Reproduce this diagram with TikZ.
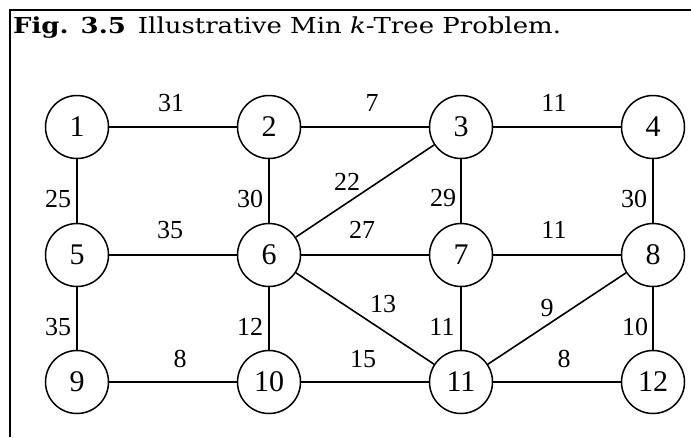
\documentclass[tikz,border=0pt]{standalone}
\usepackage{fontspec}
\setmainfont{Liberation Serif}
\newfontfamily\titlefont[FakeStretch=1.18]{DejaVu Serif}
\begin{document}
\begin{tikzpicture}[x=1pt,y=-1pt,
  vtx/.style={circle,draw,line width=1.5pt,minimum size=63pt,inner sep=0pt,font=\fontsize{30}{30}\selectfont},
  edge/.style={line width=1.1pt},
  dedge/.style={line width=1.6pt},
  wt/.style={font=\fontsize{26}{26}\selectfont,inner sep=0pt},
  frameline/.style={line width=2pt}]
\useasboundingbox (0,0) rectangle (691,437);
\coordinate (tl) at (10,10);
\coordinate (tr) at (691,10);
\coordinate (bl) at (10,437);
\draw[frameline] (tr) -- (tl) -- (bl);
\node[anchor=base west,inner sep=0pt] (title) at (13,33) {\titlefont\fontsize{22}{22}\selectfont\textbf{Fig. 3.5}\hspace{0.55em}Illustrative Min \textit{k}-Tree Problem.};
% vertices
\node[vtx] (n1) at (77,127) {1};
\node[vtx] (n2) at (269,127) {2};
\node[vtx] (n3) at (461,127) {3};
\node[vtx] (n4) at (653,127) {4};
\node[vtx] (n5) at (77,255) {5};
\node[vtx] (n6) at (269,255) {6};
\node[vtx] (n7) at (461,255) {7};
\node[vtx] (n8) at (653,255) {8};
\node[vtx] (n9) at (77,382) {9};
\node[vtx] (n10) at (269,382) {10};
\node[vtx] (n11) at (461,382) {11};
\node[vtx] (n12) at (653,382) {12};
% edges
\draw[edge] (n1) -- (n2);
\draw[edge] (n2) -- (n3);
\draw[edge] (n3) -- (n4);
\draw[edge] (n1) -- (n5);
\draw[edge] (n2) -- (n6);
\draw[dedge] (n6) -- (n3);
\draw[edge] (n3) -- (n7);
\draw[edge] (n4) -- (n8);
\draw[edge] (n5) -- (n6);
\draw[edge] (n6) -- (n7);
\draw[edge] (n7) -- (n8);
\draw[edge] (n5) -- (n9);
\draw[edge] (n6) -- (n10);
\draw[dedge] (n6) -- (n11);
\draw[edge] (n7) -- (n11);
\draw[dedge] (n11) -- (n8);
\draw[edge] (n8) -- (n12);
\draw[edge] (n9) -- (n10);
\draw[edge] (n10) -- (n11);
\draw[edge] (n11) -- (n12);
% weights
\node[wt] (w12) at (171,103) {31};
\node[wt] (w23) at (372,103) {7};
\node[wt] (w34) at (554,103) {11};
\node[wt] (w15) at (58,199) {25};
\node[wt] (w26) at (250,199) {30};
\node[wt] (w36) at (347,182) {22};
\node[wt] (w37) at (443,198) {29};
\node[wt] (w48) at (634,199) {30};
\node[wt] (w56) at (170,230) {35};
\node[wt] (w67) at (362,230) {27};
\node[wt] (w78) at (554,230) {11};
\node[wt] (w59) at (58,327) {35};
\node[wt] (w610) at (250,327) {12};
\node[wt] (w611) at (383,304) {13};
\node[wt] (w711) at (442,327) {11};
\node[wt] (w811) at (547,308) {9};
\node[wt] (w812) at (635,327) {10};
\node[wt] (w910) at (180,359) {8};
\node[wt] (w1011) at (363,359) {15};
\node[wt] (w1112) at (564,359) {8};
\end{tikzpicture}
\end{document}
